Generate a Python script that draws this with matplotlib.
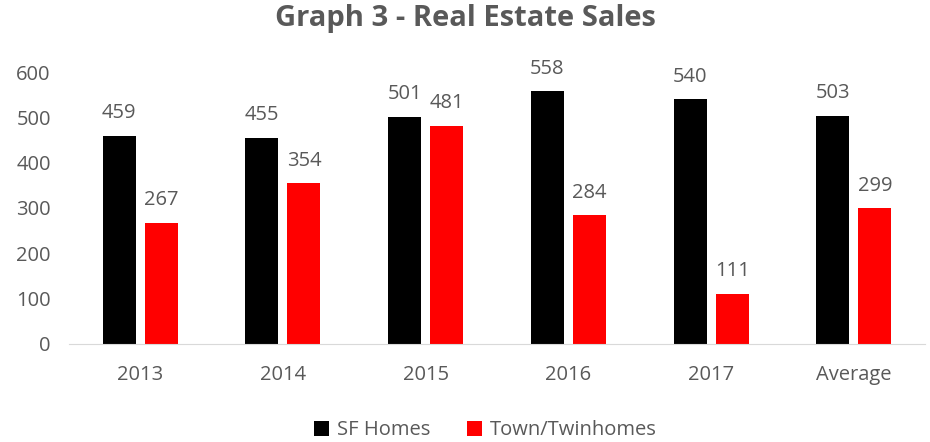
import matplotlib.pyplot as plt
import numpy as np

categories = ['2013', '2014', '2015', '2016', '2017', 'Average']
sf_homes = [459, 455, 501, 558, 540, 503]
town_homes = [267, 354, 481, 284, 111, 299]

plt.rcParams['font.family'] = ['Open Sans', 'DejaVu Sans']
grey = '#595959'

fig = plt.figure(figsize=(9.3, 4.42), dpi=100)
ax = fig.add_axes([0.074, 0.222, 0.921, 0.615])

x = np.arange(len(categories))
w = 0.231
off = 0.147
b1 = ax.bar(x - off, sf_homes, w, color='#000000', label='SF Homes')
b2 = ax.bar(x + off, town_homes, w, color='#FF0000', label='Town/Twinhomes')

for bars in (b1, b2):
    ax.bar_label(bars, padding=9, fontsize=14.5, color=grey)

ax.set_xlim(-0.5, len(categories) - 0.5)
ax.set_ylim(0, 600)
ax.set_yticks(range(0, 601, 100))
ax.set_xticks(x)
ax.set_xticklabels(categories)
ax.tick_params(axis='both', length=0, labelsize=14.5, labelcolor=grey)
ax.tick_params(axis='x', pad=15)
ax.tick_params(axis='y', pad=13)
for s in ('top', 'right', 'left'):
    ax.spines[s].set_visible(False)
ax.spines['bottom'].set_color('#d9d9d9')

fig.suptitle('Graph 3 - Real Estate Sales', y=0.99, fontsize=21,
             fontweight='bold', color=grey)
fig.legend(loc='lower center', ncol=2, frameon=False, fontsize=14.5,
           labelcolor=grey, bbox_to_anchor=(0.522, -0.037),
           handlelength=0.75, handleheight=0.75, columnspacing=1.8,
           handletextpad=0.4)

fig.savefig('out.png', dpi=100)
